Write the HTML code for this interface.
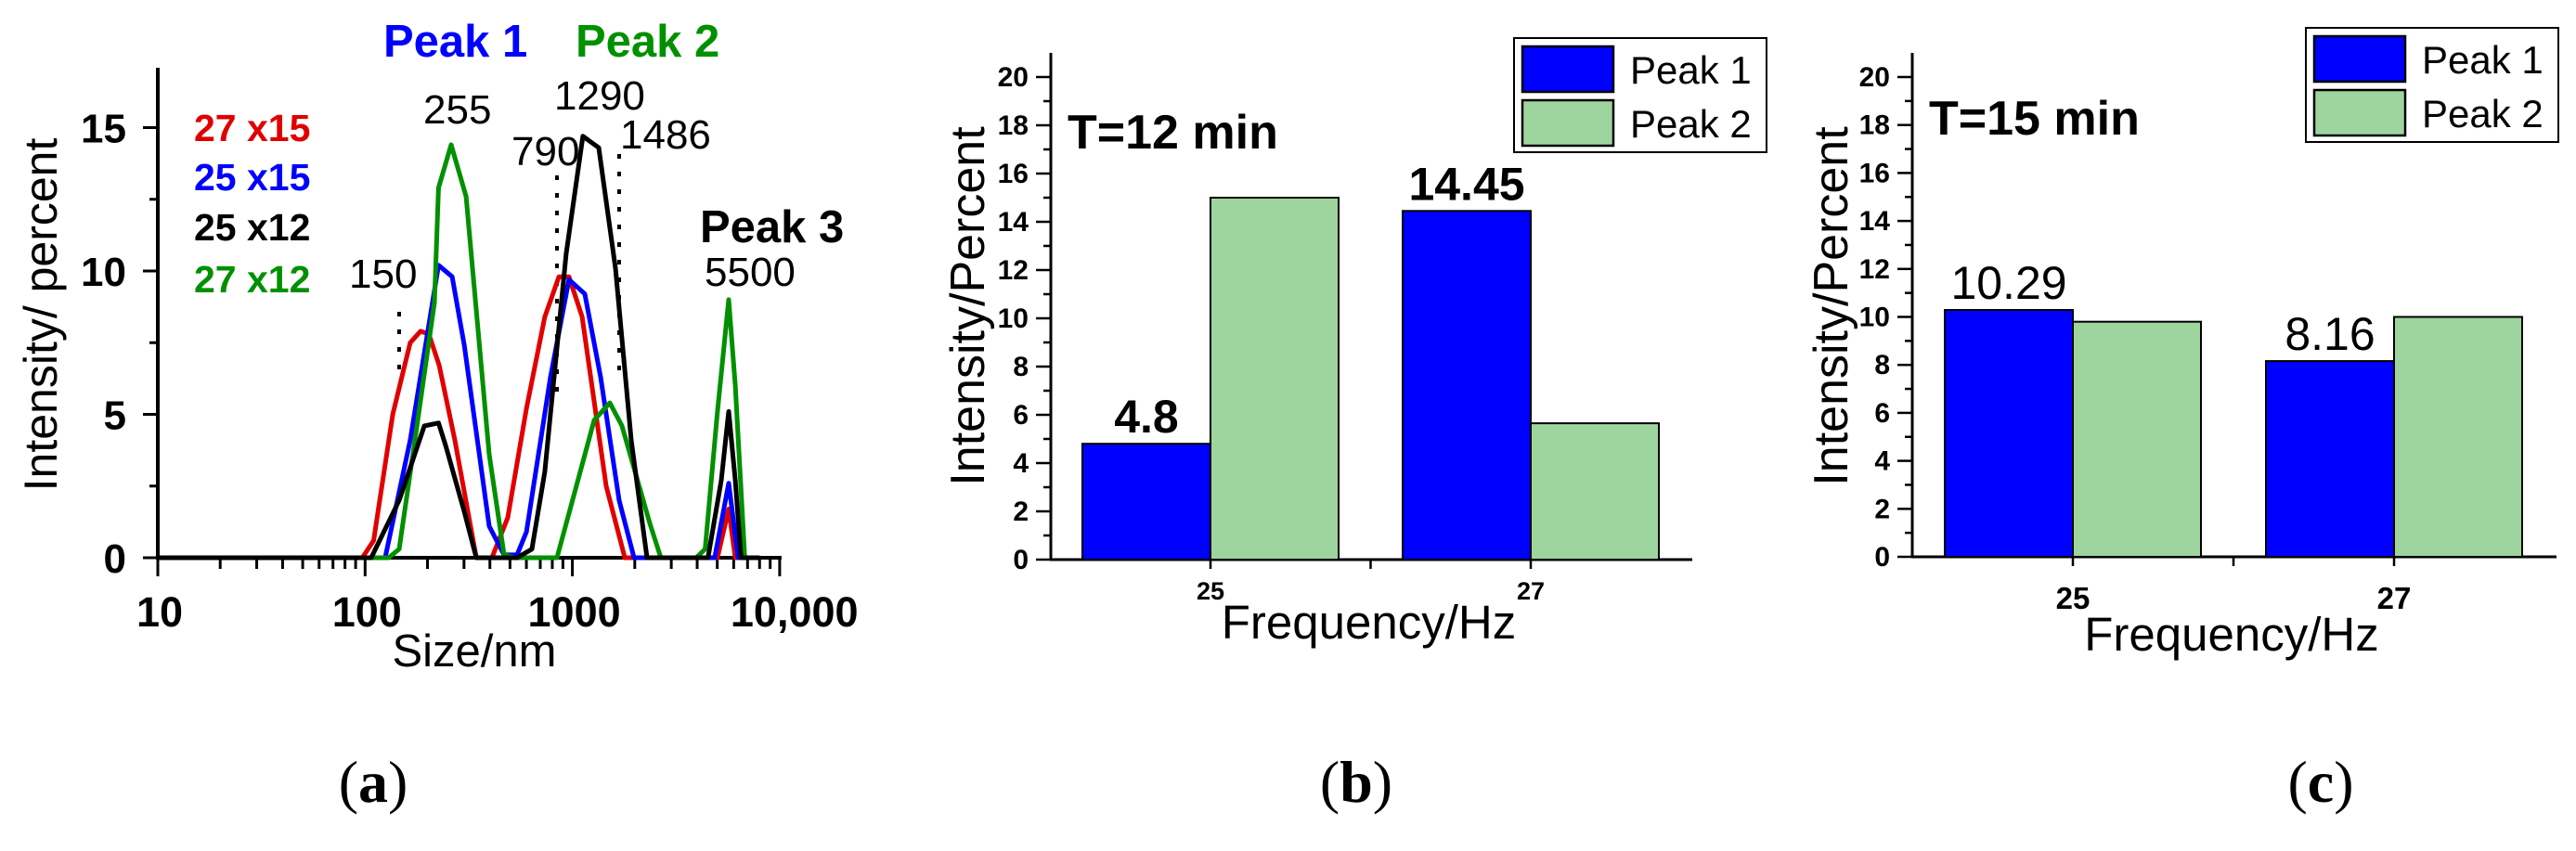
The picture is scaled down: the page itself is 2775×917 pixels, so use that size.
<!DOCTYPE html>
<html><head><meta charset="utf-8"><style>
html,body{margin:0;padding:0;background:#fff;}
svg{display:block;font-family:"Liberation Sans",sans-serif;}
</style></head><body>
<svg id="fig" width="2775" height="917" viewBox="0 0 2775 917" xmlns="http://www.w3.org/2000/svg">
<g id="pa"></g>
<g id="pb"></g>
<g id="pc"></g>
</svg>
<script>
// ---- Panel (a) data ----
const redSize  = [10,90,97,110,136,165,185,203,228,271,344,409,488,600,736,861,963,1114,1455,1790,4900,5012,5675,6109,8000];
const redVal   = [0,0,0,0.6,5.0,7.5,7.9,7.8,6.7,4.1,0,0,1.4,5.2,8.4,9.8,9.8,8.4,2.5,0,0,0,1.7,0,0];
const blueSize = [10,125,165,226,263,301,397,468,541,600,784,963,1148,1368,1681,1983,4800,4860,5675,6300,8000];
const blueVal  = [0,0,4.1,10.2,9.8,7.4,1.1,0.1,0.1,0.9,6.3,9.7,9.2,6.3,2.0,0,0,0,2.6,0,0];
const greenSize= [10,130,146,174,216,226,260,307,397,468,530,843,1274,1517,1734,2362,2672,3954,4369,5012,5675,6109,6786,8000];
const greenVal = [0,0,0.3,4.1,8.9,12.9,14.4,12.6,3.6,0.1,0,0,4.8,5.4,4.6,1.2,0,0,0.3,5.1,9.0,6.0,0,0];
const blackSize= [10,107,146,193,226,245,301,344,541,638,736,933,1124,1340,1614,1923,2291,4510,5230,5675,6109,6510,8000];
const blackVal = [0,0,2.0,4.6,4.7,3.9,1.6,0,0,0.3,3.0,10.6,14.7,14.3,10.1,4.1,0,0,2.7,5.1,2.7,0,0];
const aYTicks = [0,5,10,15];
const aXTicks = [10,100,1000,10000];
const aXLabels = ["10","100","1000","10,000"];
// ---- Panel (b)/(c) data ----
const freqCats = ["25","27"];
const bPeak1 = [4.8,14.45];
const bPeak2 = [15,5.65];
const bLabels = ["4.8","14.45"];
const cPeak1 = [10.29,8.16];
const cPeak2 = [9.8,10.0];
const cLabels = ["10.29","8.16"];
const barYTicks = [0,2,4,6,8,10,12,14,16,18,20];

const NS="http://www.w3.org/2000/svg";
function mk(parent,tag,attrs,text){const e=document.createElementNS(NS,tag);for(const k in attrs)e.setAttribute(k,attrs[k]);if(text!==undefined)e.textContent=text;parent.appendChild(e);return e;}

// ===== Panel A =====
(function(){
const g=document.getElementById('pa');
const x0=170,dec=223.3,y0=601,ys=30.9;
const X=s=>x0+dec*Math.log10(s/10);
const Y=v=>y0-v*ys;
let e=mk(g,'line',{x1:x0,y1:73,x2:x0,y2:y0+2,stroke:'#000','stroke-width':4});


e=mk(g,'line',{x1:x0-2,y1:y0,x2:X(10000)+2,y2:y0,stroke:'#000','stroke-width':4});


for(let v=0;v<=15;v+=2.5){const major=aYTicks.includes(v);
 e=mk(g,'line',{x1:x0-(major?16:9),y1:Y(v),x2:x0,y2:Y(v),stroke:'#000','stroke-width':3});
 
 }
aYTicks.forEach(v=>{e=mk(g,'text',{x:136,y:Y(v)+16,'text-anchor':'end','font-size':44,'font-weight':'bold'},String(v));
 
 });
for(let d=10;d<10000;d*=10){for(let m=1;m<=9;m++){const s=d*m;const major=m===1;
 e=mk(g,'line',{x1:X(s),y1:y0,x2:X(s),y2:y0+(major?20:12),stroke:'#000','stroke-width':3});
 
 }}
e=mk(g,'line',{x1:X(10000),y1:y0,x2:X(10000),y2:y0+20,stroke:'#000','stroke-width':3});


aXTicks.forEach((s,i)=>{e=mk(g,'text',{x:X(s)+(i===3?0:2),y:675,'text-anchor':i===3?'start':'middle','font-size':45,'font-weight':'bold'},aXLabels[i]);
 if(i===3)e.setAttribute('x',X(s)-53);
 
 });
e=mk(g,'text',{x:511,y:718,'text-anchor':'middle','font-size':49},'Size/nm');


e=mk(g,'text',{x:0,y:0,'text-anchor':'middle','font-size':50,transform:'translate(61,339) rotate(-90)'},'Intensity/ percent');


[[430,336,402],[600,189,436],[667,166,413]].forEach(d=>{e=mk(g,'line',{x1:d[0],y1:d[1],x2:d[0],y2:d[2],stroke:'#000','stroke-width':4,'stroke-dasharray':'5 14'});
 
 });
const series=[[redSize,redVal,'#e00000','series-27x15'],[blueSize,blueVal,'#0000ff','series-25x15'],[greenSize,greenVal,'#009000','series-27x12'],[blackSize,blackVal,'#000','series-25x12']];
series.forEach(s=>{const pts=s[0].map((v,i)=>X(v).toFixed(1)+','+Y(s[1][i]).toFixed(1)).join(' ');
 e=mk(g,'polyline',{points:pts,fill:'none',stroke:s[2],'stroke-width':5,'stroke-linejoin':'round'});
 
 });
[['27 x15','#e00000',152],['25 x15','#0000ff',205],['25 x12','#000',259],['27 x12','#009000',315]].forEach(l=>{
 e=mk(g,'text',{x:209,y:l[2],'font-size':41,'font-weight':'bold',fill:l[1]},l[0]);
 
 });
[['Peak 1',413,61,'#0000ff',true],['Peak 2',620,61,'#009000',true],['Peak 3',754,261,'#000',true],
 ['255',456,133,'#000',false],['1290',597,118,'#000',false],['790',551,178,'#000',false],['1486',668,160,'#000',false],['150',376,310,'#000',false],['5500',759,308,'#000',false]].forEach(a=>{
 e=mk(g,'text',{x:a[1],y:a[2],'font-size':a[4]?49:44,'font-weight':a[4]?'bold':'normal',fill:a[3]},a[0]);
 
 });
e=mk(g,'text',{x:402,y:864,'text-anchor':'middle','font-size':64,'font-family':'"Liberation Serif",serif'});
e.innerHTML='(<tspan font-weight="bold">a</tspan>)';


})();

// ===== Bar panels =====
function barPanel(id,cfg,p1,p2,labels){
const g=document.getElementById(id);
const {x0,xr,y0,ys,cat}=cfg;const Y=v=>y0-v*ys;const bw=138;let e;
e=mk(g,'line',{x1:x0,y1:57,x2:x0,y2:y0+1,stroke:'#000','stroke-width':3});


e=mk(g,'line',{x1:x0-1,y1:y0,x2:xr,y2:y0,stroke:'#000','stroke-width':3});


for(let v=0;v<=20;v++){const major=v%2===0;
 e=mk(g,'line',{x1:x0-(major?16:8),y1:Y(v),x2:x0,y2:Y(v),stroke:'#000','stroke-width':2.5});
 
 }
barYTicks.forEach(v=>{e=mk(g,'text',{x:x0-24,y:Y(v)+10,'text-anchor':'end','font-size':cfg.tf,'font-weight':'bold'},String(v));
 
 });
[cat[0],(cat[0]+cat[1])/2,cat[1]].forEach(x=>{e=mk(g,'line',{x1:x,y1:y0,x2:x,y2:y0+10,stroke:'#000','stroke-width':2.5});
 
 });
freqCats.forEach((c,i)=>{
 e=mk(g,'rect',{x:cat[i]-bw,y:Y(p1[i]),width:bw,height:p1[i]*ys,fill:'#0000ff',stroke:'#000','stroke-width':2});
 
 
 e=mk(g,'rect',{x:cat[i],y:Y(p2[i]),width:bw,height:p2[i]*ys,fill:'#9ed59e',stroke:'#000','stroke-width':2});
 
 
 e=mk(g,'text',{x:cat[i],y:cfg.xly,'text-anchor':'middle','font-size':cfg.xf,'font-weight':'bold'},c);
 
 
 e=mk(g,'text',{x:cat[i]-bw/2,y:Y(p1[i])-12,'text-anchor':'middle','font-size':50,'font-weight':cfg.vb?'bold':'normal'},labels[i]);
 
 });
e=mk(g,'text',{x:(x0+xr)/2-3,y:cfg.xty,'text-anchor':'middle','font-size':51},'Frequency/Hz');


e=mk(g,'text',{x:0,y:0,'text-anchor':'middle','font-size':52,transform:`translate(${cfg.ytx},330) rotate(-90)`},'Intensity/Percent');


e=mk(g,'text',{x:x0+18,y:cfg.tty,'font-size':52,'font-weight':'bold'},cfg.title);


const L=cfg.leg;
e=mk(g,'rect',{x:L[0],y:L[1],width:272,height:123,fill:'#fff',stroke:'#000','stroke-width':2});


[['#0000ff','Peak 1',0],['#9ed59e','Peak 2',58]].forEach(s=>{
 e=mk(g,'rect',{x:L[0]+9,y:L[1]+9+s[2],width:98,height:49,fill:s[0],stroke:'#000','stroke-width':2.5});
 
 
 e=mk(g,'text',{x:L[0]+125,y:L[1]+49+s[2],'font-size':42},s[1]);
 
 });
e=mk(g,'text',{x:cfg.pl,y:864,'text-anchor':'middle','font-size':64,'font-family':'"Liberation Serif",serif'});
e.innerHTML='(<tspan font-weight="bold">'+cfg.plt+'</tspan>)';


}
barPanel('pb',{x0:1132,xr:1823,y0:603,ys:26,cat:[1304,1649],tf:30,xf:27,xly:646,xty:688,ytx:1060,tty:160,title:'T=12 min',leg:[1631,41],pl:1461,plt:'b',vb:true},bPeak1,bPeak2,bLabels);
barPanel('pc',{x0:2060,xr:2754,y0:600,ys:25.85,cat:[2233,2579],tf:30,xf:33,xly:656,xty:701,ytx:1990,tty:145,title:'T=15 min',leg:[2484,30],pl:2500,plt:'c',vb:false},cPeak1,cPeak2,cLabels);
</script>
</body></html>
